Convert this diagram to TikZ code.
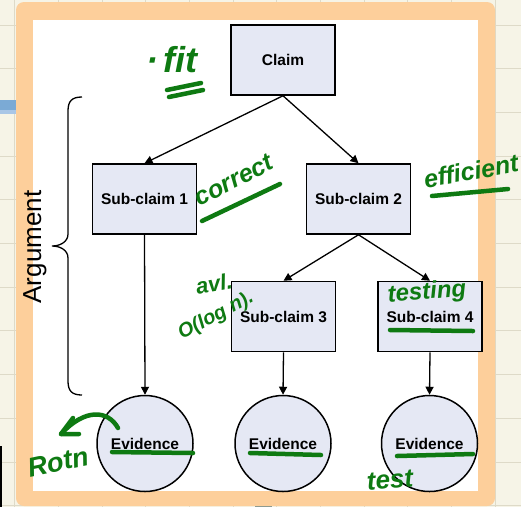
\documentclass[tikz,border=0pt]{standalone}
\usepackage{fontspec}
\setmainfont{Liberation Sans}
\newfontfamily\inkfont{Liberation Sans}
\usetikzlibrary{arrows.meta}

\definecolor{paper}{HTML}{F6F4E7}
\definecolor{gridline}{HTML}{DEDAC8}
\definecolor{frameorange}{HTML}{FDCF9B}
\definecolor{boxfill}{HTML}{E5E8F4}
\definecolor{ink}{HTML}{0E7A12}
\definecolor{tabblue}{HTML}{7BAAD5}
\definecolor{tabblue2}{HTML}{A9C6E6}
\definecolor{tabgray}{HTML}{7E938F}

\tikzset{
  claimbox/.style={draw=black, line width=1.5pt, fill=boxfill, minimum width=104pt,
    minimum height=70pt, inner sep=0pt, font=\bfseries\fontsize{15.5}{18}\selectfont},
  evidence/.style={circle, draw=black, line width=1.5pt, fill=boxfill, minimum size=96pt,
    inner sep=0pt, font=\bfseries\fontsize{15.5}{18}\selectfont},
  conn/.style={line width=1.3pt, -{Triangle[length=8pt,width=8pt]}},
  inktext/.style={text=ink, inner sep=0pt},
  inkline/.style={draw=ink, line width=4.5pt, line cap=round, line join=round},
}

\newcommand{\inksize}[1]{\inkfont\bfseries\itshape\fontsize{#1}{#1}\selectfont}

\begin{document}
\begin{tikzpicture}[x=1pt, y=-1pt]
\useasboundingbox (0,0) rectangle (521,507);

% squared paper behind the sheet
\fill[paper] (0,0) rectangle (521,507);
\foreach \k in {0,...,11} {
  \draw[gridline, line width=1pt] (14.6+43.7*\k,0) -- ++(0,507);
  \draw[gridline, line width=1pt] (0,25+43.7*\k) -- ++(521,0);
}
\fill[tabblue] (0,100) rectangle (17,110);
\fill[tabblue2] (0,110) rectangle (17,114);
\fill[tabgray] (255,499) rectangle (272,507);
\draw[black, line width=1.5pt] (1,446) -- (1,507);

% orange sheet frame
\fill[frameorange, rounded corners=8pt] (16,2) rectangle (495,506);
\fill[white] (33,20) rectangle (478,491);

% claim tree
\node[claimbox] (claim) at (283,60) {Claim};
\node[claimbox] (sub1) at (144.5,199) {Sub-claim 1};
\node[claimbox] (sub2) at (358.5,199) {Sub-claim 2};
\node[claimbox] (sub3) at (283.5,316.5) {Sub-claim 3};
\node[claimbox] (sub4) at (430,316.5) {Sub-claim 4};
\node[evidence] (ev1) at (145,443.5) {Evidence};
\node[evidence] (ev2) at (283,443.5) {Evidence};
\node[evidence] (ev3) at (429.5,443.5) {Evidence};

\draw[conn] (claim.south) -- (sub1.north);
\draw[conn] (claim.south) -- (sub2.north);
\draw[conn] (sub2.south) -- (sub3.north);
\draw[conn] (sub2.south) -- (sub4.north);
\draw[conn] (sub1.south) -- (ev1.north);
\draw[conn] (sub3.south) -- (ev2.north);
\draw[conn] (sub4.south) -- (ev3.north);

% argument brace
\coordinate (bracetop) at (82,97);
\coordinate (bracetip) at (52,246);
\coordinate (bracebot) at (82,395);
\draw[line width=1.3pt] (bracetop) .. controls (72,97) and (68,101) .. (68,111)
  -- (68,234) .. controls (68,242) and (60,246) .. (bracetip)
  .. controls (60,246) and (68,250) .. (68,258)
  -- (68,381) .. controls (68,391) and (72,395) .. (bracebot);
\node[rotate=90, anchor=base, inner sep=0pt, font=\fontsize{26}{30}\selectfont] (arglabel) at (41,247) {Argument};

% ink annotations
\node[inktext, font=\inksize{36}] (fitnote) at (172,60) {·\,fit};
\draw[inkline] (167,90) -- (201,83);
\draw[inkline] (169,97) -- (203,90);

\node[inktext, rotate=27, font=\inksize{25}] (correctnote) at (234,180) {correct};
\draw[inkline] (202,221) -- (280,184);

\node[inktext, rotate=10, font=\inksize{25}] (efficientnote) at (471,171) {efficient};
\draw[inkline] (432,196) -- (508,189);

\node[inktext, rotate=10, font=\inksize{22}] (avlnote) at (214,284) {avl.};
\node[inktext, rotate=28, font=\inksize{20}] (lognote) at (216,316) {O(log n).};

\node[inktext, rotate=5, font=\inksize{24}] (testingnote) at (427,293) {testing};
\draw[inkline] (390,330) -- (473,331);

\node[inktext, rotate=12, font=\inksize{27}] (rotnnote) at (58,462) {Rotn};
\coordinate (hooktail) at (118,428);
\coordinate (hooktip) at (61,434);
\draw[inkline] (hooktail) .. controls (108,410) and (85,408) .. (hooktip);
\draw[inkline] (73,418) -- (hooktip) -- (79,434);

\node[inktext, rotate=5, font=\inksize{26}] (testnote) at (390,480) {test};

\draw[inkline] (112,452) -- (193,453);
\draw[inkline] (250,453) -- (321,455);
\draw[inkline] (397,456) -- (473,454);
\end{tikzpicture}
\end{document}
